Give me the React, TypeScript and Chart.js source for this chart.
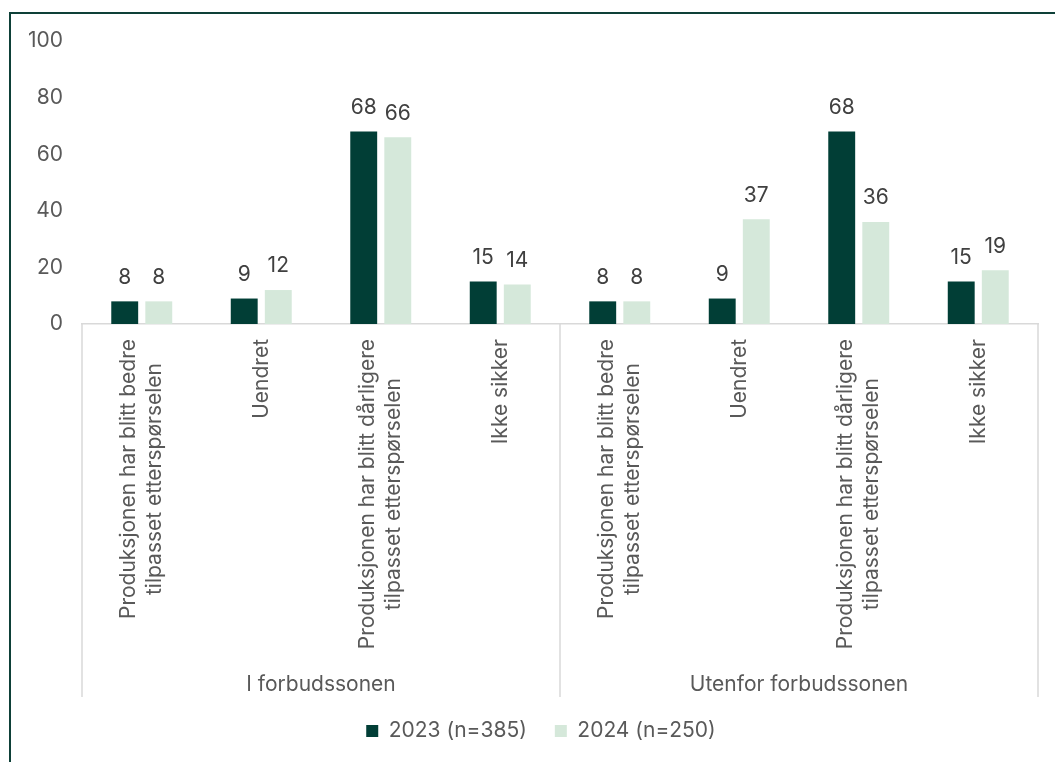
import React, { useEffect, useRef } from "react";
import { Chart, registerables } from "chart.js";

Chart.register(...registerables);

const categoryLabels: string[][] = [
  ["Produksjonen har blitt bedre", "tilpasset etterspørselen"],
  ["Uendret"],
  ["Produksjonen har blitt dårligere", "tilpasset etterspørselen"],
  ["Ikke sikker"],
  ["Produksjonen har blitt bedre", "tilpasset etterspørselen"],
  ["Uendret"],
  ["Produksjonen har blitt dårligere", "tilpasset etterspørselen"],
  ["Ikke sikker"],
];
const groupLabels = ["I forbudssonen", "Utenfor forbudssonen"];
const groupSize = 4;
const values2023 = [8, 9, 68, 15, 8, 9, 68, 15];
const values2024 = [8, 12, 66, 14, 8, 37, 36, 19];
const seriesNames = ["2023 (n=385)", "2024 (n=250)"];
const yTicks = { min: 0, max: 100, step: 20 };

const FONT = "Inter, 'Noto Sans', sans-serif";
const FS = 21;
const DARK = "#013E36";
const LIGHT = "#D5E8DA";
const TEXT = "#595959";
const LINE = "#D9D9D9";

const customPlugin = {
  id: "customDraw",
  afterLayout(chart: any) {
    if (chart.legend) {
      chart.legend.left += 12;
      chart.legend.right += 12;
    }
  },
  afterDatasetsDraw(chart: any) {
    const ctx = chart.ctx;
    ctx.save();
    ctx.font = `${FS}px ${FONT}`;
    ctx.fillStyle = "#404040";
    ctx.textAlign = "center";
    ctx.textBaseline = "middle";
    chart.data.datasets.forEach((ds: any, di: number) => {
      const meta = chart.getDatasetMeta(di);
      meta.data.forEach((bar: any, i: number) => {
        ctx.fillText(String(ds.data[i]), bar.x, bar.y - 24);
      });
    });
    ctx.restore();
  },
  afterDraw(chart: any) {
    const ctx = chart.ctx;
    const xs = chart.scales.x;
    const top = xs.top;
    const lineBottom = top + 373;
    ctx.save();
    ctx.strokeStyle = LINE;
    ctx.lineWidth = 1.5;
    const n = chart.data.labels.length;
    const boundaries: number[] = [];
    for (let b = 0; b <= n; b += groupSize) {
      let px: number;
      if (b === 0) px = xs.left;
      else if (b === n) px = xs.right;
      else px = (xs.getPixelForValue(b - 1) + xs.getPixelForValue(b)) / 2;
      boundaries.push(px);
      ctx.beginPath();
      ctx.moveTo(px, top);
      ctx.lineTo(px, lineBottom);
      ctx.stroke();
    }
    ctx.font = `${FS}px ${FONT}`;
    ctx.fillStyle = TEXT;
    ctx.textAlign = "center";
    ctx.textBaseline = "middle";
    const lh = 26;
    categoryLabels.forEach((lines, i) => {
      const cx = xs.getPixelForValue(i);
      const w = Math.max(...lines.map((l) => ctx.measureText(l).width));
      ctx.save();
      ctx.translate(cx, top + 15);
      ctx.rotate(-Math.PI / 2);
      lines.forEach((l, li) => {
        ctx.fillText(l, -w / 2, (li - (lines.length - 1) / 2) * lh);
      });
      ctx.restore();
    });
    groupLabels.forEach((g, gi) => {
      const cx = (boundaries[gi] + boundaries[gi + 1]) / 2;
      ctx.fillText(g, cx, top + 361);
    });
    ctx.restore();
  },
};

export default function App() {
  const ref = useRef<HTMLCanvasElement>(null);
  useEffect(() => {
    if (!ref.current) return;
    const chart = new Chart(ref.current, {
      type: "bar",
      data: {
        labels: categoryLabels,
        datasets: [
          {
            label: seriesNames[0],
            data: values2023,
            backgroundColor: DARK,
            categoryPercentage: 0.57,
            barPercentage: 0.79,
          },
          {
            label: seriesNames[1],
            data: values2024,
            backgroundColor: LIGHT,
            categoryPercentage: 0.57,
            barPercentage: 0.79,
          },
        ],
      },
      options: {
        animation: false,
        responsive: true,
        maintainAspectRatio: false,
        layout: { padding: { left: 20, right: 17, top: 41, bottom: 10.5 } },
        scales: {
          x: {
            grid: { display: false, drawTicks: false },
            border: { display: true, color: LINE, width: 1.5 },
            ticks: { display: false },
            afterFit: (scale: any) => {
              scale.height = 368.5;
            },
          },
          y: {
            min: yTicks.min,
            max: yTicks.max,
            grid: { display: false, drawTicks: false },
            border: { display: false },
            ticks: {
              stepSize: yTicks.step,
              padding: 19,
              color: TEXT,
              font: { family: FONT, size: FS },
            },
            afterFit: (scale: any) => {
              scale.width = 62;
            },
          },
        },
        plugins: {
          legend: {
            position: "bottom",
            labels: {
              boxWidth: 12,
              boxHeight: 12,
              padding: 28,
              color: TEXT,
              font: { family: FONT, size: FS },
            },
          },
          tooltip: { enabled: false },
        },
      },
      plugins: [customPlugin],
    });
    return () => chart.destroy();
  }, []);
  return (
    <div
      style={{
        position: "fixed",
        left: 0,
        top: 0,
        width: 1055,
        height: 762,
        background: "#fff",
        overflow: "hidden",
      }}
    >
      <div
        style={{
          position: "absolute",
          left: 9,
          top: 12,
          width: 1100,
          height: 800,
          borderTop: "2px solid #0E4038",
          borderLeft: "2px solid #0E4038",
        }}
      />
      <div style={{ position: "absolute", left: 0, top: 0, width: 1055, height: 762 }}>
        <canvas ref={ref} />
      </div>
    </div>
  );
}
